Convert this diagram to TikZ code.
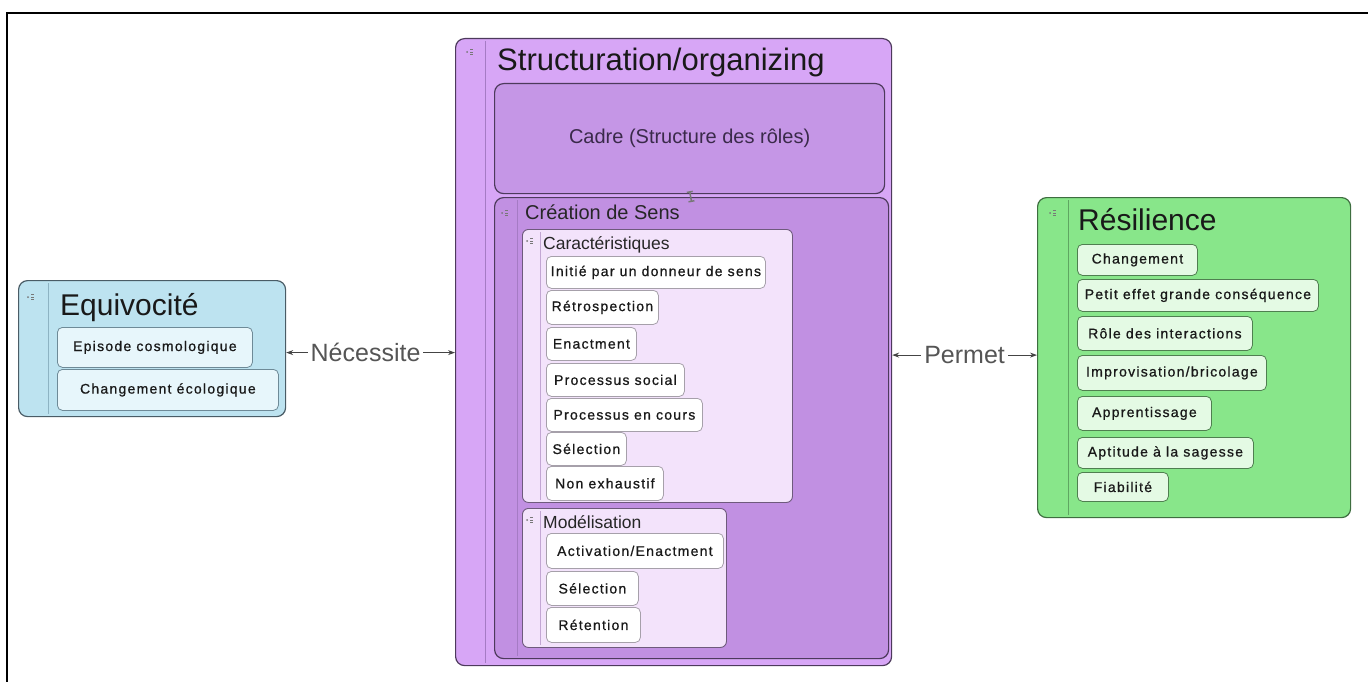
\documentclass[tikz,border=0pt]{standalone}
\usepackage{fontspec}
\setmainfont{Liberation Sans}
\newfontfamily\itemfont[LetterSpace=9,FakeBold=0.8]{Liberation Sans}
\usetikzlibrary{arrows.meta}

\definecolor{eqfill}{HTML}{BDE3F0}
\definecolor{eqline}{HTML}{4A5C66}
\definecolor{eqstrip}{HTML}{8DB3C3}
\definecolor{eqifill}{HTML}{E7F6FB}
\definecolor{eqiline}{HTML}{6E8A97}
\definecolor{stfill}{HTML}{D7A6F6}
\definecolor{stline}{HTML}{4D3A5C}
\definecolor{ststrip}{HTML}{A57BC4}
\definecolor{cdfill}{HTML}{C596E6}
\definecolor{cdtext}{HTML}{3A2A4A}
\definecolor{snfill}{HTML}{C190E2}
\definecolor{lvfill}{HTML}{F3E3FB}
\definecolor{lvline}{HTML}{6E5A7C}
\definecolor{lvstrip}{HTML}{C2A6D3}
\definecolor{itline}{HTML}{A6A0AA}
\definecolor{rsfill}{HTML}{88E68A}
\definecolor{rsline}{HTML}{3E6E40}
\definecolor{rsstrip}{HTML}{5FA562}
\definecolor{rsifill}{HTML}{E4FAE4}
\definecolor{rsiline}{HTML}{4F7F50}
\definecolor{arrgray}{HTML}{444444}
\definecolor{lblgray}{HTML}{555555}
\definecolor{markgray}{HTML}{777777}

\tikzset{
  grp/.style={line width=1.2pt, rounded corners=9pt, anchor=north west, inner sep=0pt},
  strip/.style={line width=0.8pt},
  ttl/.style={anchor=base west, inner sep=0pt, text=black!90, font=\fontsize{30}{34}\selectfont},
  sub/.style={anchor=base west, inner sep=0pt, text=black!85},
  item/.style={rounded corners=5pt, anchor=north west, inner xsep=3pt, inner ysep=0pt,
    line width=0.8pt, text=black!90, font=\itemfont\fontsize{14}{16}\selectfont},
  eqitem/.style={item, draw=eqiline, fill=eqifill},
  citem/.style={item, draw=itline, fill=white},
  rsitem/.style={item, draw=rsiline, fill=rsifill},
  link/.style={{Stealth[length=7pt,width=5pt]}-{Stealth[length=7pt,width=5pt]}, draw=arrgray, line width=0.9pt},
  lbl/.style={fill=white, text=lblgray, inner xsep=3pt, inner ysep=1pt, font=\fontsize{25}{28}\selectfont},
  grpmark/.pic={
    \fill[markgray] (-3,0) circle (1);
    \draw[markgray, line width=0.6pt] (0,-2.5) -- (3,-2.5) (0,0) -- (3,0) (0,2.5) -- (3,2.5);
  }
}

\begin{document}
\begin{tikzpicture}[x=1pt, y=-1pt]
  \useasboundingbox (0,0) rectangle (1368,682);

  % frame
  \draw[line width=2pt] (7,682) -- (7,13) -- (1368,13);

  % Equivocite
  \node[grp, fill=eqfill, draw=eqline, minimum width=267pt, minimum height=136pt] (equiv) at (18,280) {};
  \draw[strip, eqstrip] ([xshift=30pt,yshift=-3pt]equiv.north west) -- ([xshift=30pt,yshift=3pt]equiv.south west);
  \pic at (31,297) {grpmark};
  \node[ttl] (equivT) at (60,315) {Equivocité};
  \node[eqitem, minimum width=195pt, minimum height=40pt] (episode) at (57,327) {Episode cosmologique};
  \node[eqitem, minimum width=221pt, minimum height=41pt] (ecolo) at (57,369) {Changement écologique};

  % Structuration/organizing
  \node[grp, fill=stfill, draw=stline, minimum width=436pt, minimum height=627pt] (struct) at (455,38) {};
  \draw[strip, ststrip] ([xshift=30pt,yshift=-3pt]struct.north west) -- ([xshift=30pt,yshift=3pt]struct.south west);
  \pic at (470,52) {grpmark};
  \node[ttl, font=\fontsize{31}{35}\selectfont] (structT) at (497,71) {Structuration/organizing};
  \node[grp, fill=cdfill, draw=stline, minimum width=390pt, minimum height=110pt, text=cdtext,
        font=\fontsize{20}{24}\selectfont] (cadre) at (494,83) {Cadre (Structure des rôles)};

  % creation de sens
  \node[grp, fill=snfill, draw=stline, minimum width=394pt, minimum height=461pt] (sens) at (494,197) {};
  \draw[strip, ststrip] ([xshift=23pt,yshift=-3pt]sens.north west) -- ([xshift=23pt,yshift=3pt]sens.south west);
  \pic at (505,213) {grpmark};
  \node[sub, font=\fontsize{20}{24}\selectfont] (sensT) at (525,219) {Création de Sens};
  \draw[{Bar[width=6pt]}-{Bar[width=6pt]}, line width=1.5pt, markgray] ([yshift=3pt]cadre.south) -- ([yshift=-5pt]sens.north);

  % caracteristiques
  \node[grp, fill=lvfill, draw=lvline, line width=0.9pt, rounded corners=6pt, minimum width=270pt, minimum height=273pt] (caract) at (522,229) {};
  \draw[strip, lvstrip] ([xshift=18pt,yshift=-3pt]caract.north west) -- ([xshift=18pt,yshift=3pt]caract.south west);
  \pic at (530,241) {grpmark};
  \node[sub, font=\fontsize{17.5}{20}\selectfont] (caractT) at (543,249) {Caractéristiques};
  \node[citem, minimum width=219pt, minimum height=32pt] (initie) at (546,256) {Initié par un donneur de sens};
  \node[citem, minimum width=112pt, minimum height=34pt] (retro) at (546,290) {Rétrospection};
  \node[citem, minimum width=90pt, minimum height=33pt] (enact) at (546,327) {Enactment};
  \node[citem, minimum width=138pt, minimum height=33pt] (social) at (546,363) {Processus social};
  \node[citem, minimum width=156pt, minimum height=33pt] (encours) at (546,398) {Processus en cours};
  \node[citem, minimum width=80pt, minimum height=33pt] (selectA) at (546,432) {Sélection};
  \node[citem, minimum width=117pt, minimum height=34pt] (nonexh) at (546,466) {Non exhaustif};

  % modelisation
  \node[grp, fill=lvfill, draw=lvline, line width=0.9pt, rounded corners=6pt, minimum width=204pt, minimum height=139pt] (model) at (522,508) {};
  \draw[strip, lvstrip] ([xshift=18pt,yshift=-3pt]model.north west) -- ([xshift=18pt,yshift=3pt]model.south west);
  \pic at (530,520) {grpmark};
  \node[sub, font=\fontsize{17.5}{20}\selectfont] (modelT) at (543,528) {Modélisation};
  \node[citem, minimum width=177pt, minimum height=35pt] (activ) at (546,533) {Activation/Enactment};
  \node[citem, minimum width=92pt, minimum height=34pt] (selectB) at (546,571) {Sélection};
  \node[citem, minimum width=94pt, minimum height=35pt] (reten) at (546,607) {Rétention};

  % Resilience
  \node[grp, fill=rsfill, draw=rsline, minimum width=313pt, minimum height=320pt] (resil) at (1037,197) {};
  \draw[strip, rsstrip] ([xshift=31pt,yshift=-3pt]resil.north west) -- ([xshift=31pt,yshift=3pt]resil.south west);
  \pic at (1053,213) {grpmark};
  \node[ttl] (resilT) at (1078,230) {Résilience};
  \node[rsitem, minimum width=120pt, minimum height=31pt] (chg) at (1077,244) {Changement};
  \node[rsitem, minimum width=241pt, minimum height=32pt] (petit) at (1077,279) {Petit effet grande conséquence};
  \node[rsitem, minimum width=175pt, minimum height=34pt] (role) at (1077,316) {Rôle des interactions};
  \node[rsitem, minimum width=189pt, minimum height=35pt] (impro) at (1077,355) {Improvisation/bricolage};
  \node[rsitem, minimum width=134pt, minimum height=34pt] (appr) at (1077,396) {Apprentissage};
  \node[rsitem, minimum width=176pt, minimum height=31pt] (aptit) at (1077,437) {Aptitude à la sagesse};
  \node[rsitem, minimum width=91pt, minimum height=29pt] (fiab) at (1077,472) {Fiabilité};

  % links
  \coordinate (necL) at ([yshift=-4pt]equiv.east);
  \draw[link] (necL) -- node[lbl, pos=0.47] (necess) {Nécessite} (necL -| struct.west);
  \coordinate (perL) at ([yshift=-3pt]struct.east);
  \draw[link] (perL) -- node[lbl] (permet) {Permet} (perL -| resil.west);
\end{tikzpicture}
\end{document}
